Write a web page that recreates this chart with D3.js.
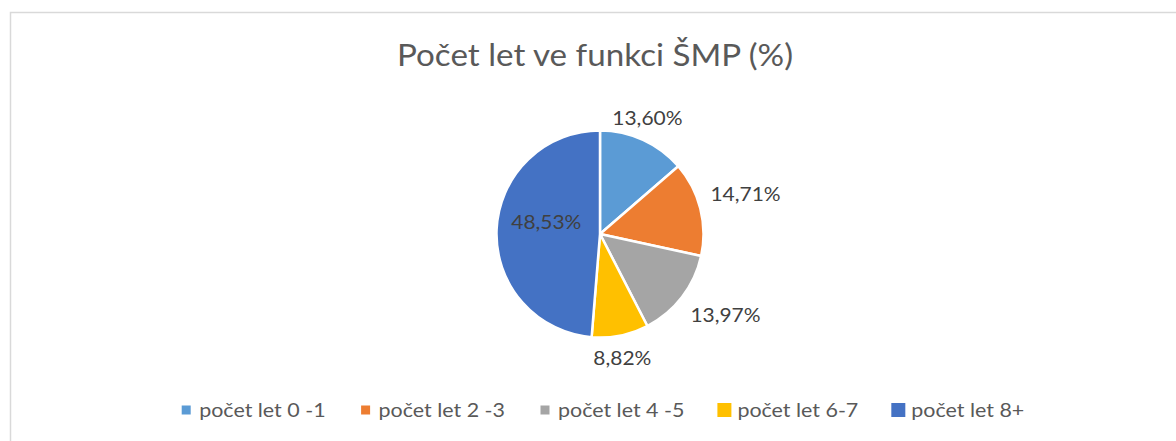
<!DOCTYPE html>
<html>
<head>
<meta charset="utf-8">
<script src="https://cdn.jsdelivr.net/npm/d3@7"></script>
<style>
  html, body { margin: 0; padding: 0; background: #fff; }
  svg { display: block; }
</style>
</head>
<body>
<svg id="chart" width="1176" height="441"></svg>
<script>
const title = "Počet let ve funkci ŠMP (%)";
const categories = ["počet let 0 -1", "počet let 2 -3", "počet let 4 -5", "počet let 6-7", "počet let 8+"];
const values = [13.60, 14.71, 13.97, 8.82, 48.53];
const colors = ["#5B9BD5", "#ED7D31", "#A5A5A5", "#FFC000", "#4472C4"];
const labelInside = [false, false, false, false, true];
const keySizes = [9, 9, 9, 14, 14];

const FONT = "Lato, 'Open Sans', sans-serif";
const svg = d3.select("#chart");

// chart border
svg.append("rect")
  .attr("x", 10.5).attr("y", 12.5)
  .attr("width", 1300).attr("height", 600)
  .attr("fill", "#fff").attr("stroke", "#D9D9D9").attr("stroke-width", 1.5);

function measure(text, size) {
  const t = svg.append("text").attr("font-family", FONT).attr("font-size", size).text(text);
  const w = t.node().getComputedTextLength();
  t.remove();
  return w;
}
function condense(t, factor) {
  const w = t.node().getComputedTextLength();
  t.attr("textLength", w * factor).attr("lengthAdjust", "spacingAndGlyphs");
  return w * factor;
}

// title
const titleSize = 30;
const titleFactor = 396 / measure(title, titleSize);
const tt = svg.append("text")
  .attr("x", 595).attr("y", 66)
  .attr("text-anchor", "middle")
  .attr("font-family", FONT).attr("font-size", titleSize)
  .attr("fill", "#595959")
  .text(title);
condense(tt, titleFactor);

// pie
const cx = 600, cy = 234, r = 103.5;
const pie = d3.pie().sort(null).value(d => d);
const arcs = pie(values);
const arc = d3.arc().innerRadius(0).outerRadius(r);
const g = svg.append("g").attr("transform", `translate(${cx},${cy})`);

g.selectAll("path.slice")
  .data(arcs)
  .join("path")
  .attr("class", "slice")
  .attr("d", arc)
  .attr("fill", (d, i) => colors[i])
  .attr("stroke", "#fff")
  .attr("stroke-width", 2.5)
  .attr("stroke-linejoin", "round");

// labels
const loc = d3.formatLocale({decimal: ",", thousands: " ", grouping: [3], currency: ["", " Kč"]});
const fmt = loc.format(".2f");
const labelSize = 19.5;
const labelFactor = 58 / measure("8,82%", labelSize);
const labelH = 24;
const labelR = r + 10.5;

arcs.forEach((d, i) => {
  const txt = fmt(values[i]) + "%";
  const t = g.append("text")
    .attr("font-family", FONT).attr("font-size", labelSize)
    .attr("fill", "#404040")
    .attr("text-anchor", "middle")
    .text(txt);
  const w = condense(t, labelFactor);
  const a = (d.startAngle + d.endAngle) / 2;
  if (labelInside[i]) {
    const c = arc.centroid(d);
    t.attr("x", c[0] - 2).attr("y", c[1] - 3);
  } else {
    const s = Math.sin(a), co = Math.cos(a);
    const ax = labelR * s, ay = -labelR * co;
    const dx = Math.abs(s) > 0.7 ? Math.sign(s) * w / 2 : 0;
    const dy = -Math.sign(co) * labelH / 2;
    t.attr("x", ax + dx).attr("y", ay + dy).attr("dy", "0.36em");
  }
});

// legend
const legSize = 19.5;
const legFactor = 126.4 / measure(categories[0], legSize);
const legY = 410;
const legend = svg.append("g");
const items = categories.map((c, i) => {
  const t = legend.append("text")
    .attr("font-family", FONT).attr("font-size", legSize)
    .attr("fill", "#595959").attr("dy", "0.36em")
    .attr("y", legY)
    .text(c);
  const w = condense(t, legFactor);
  return {t, w, i};
});
const gapKeyText = 13;  // from key centre to text start
const gapItems = 40;    // from text end to next key centre
let x = 186.2;
items.forEach(it => {
  const s = keySizes[it.i];
  legend.append("rect")
    .attr("x", x - s / 2).attr("y", legY - s / 2)
    .attr("width", s).attr("height", s)
    .attr("fill", colors[it.i]);
  it.t.attr("x", x + gapKeyText);
  x += gapKeyText + it.w + gapItems;
});
</script>
</body>
</html>
